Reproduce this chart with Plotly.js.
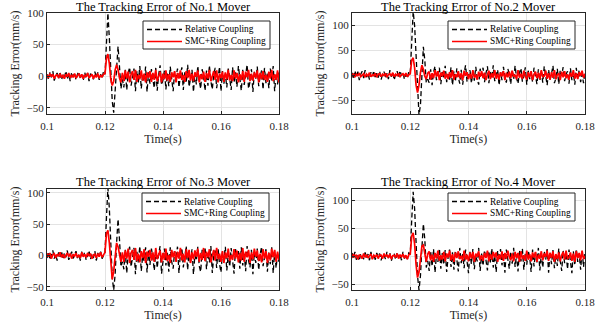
<!DOCTYPE html>
<html>
<head>
<meta charset="utf-8">
<script src="https://cdn.plot.ly/plotly-3.0.1.min.js"></script>
<style>html,body{margin:0;padding:0;background:#fff;}#chart{width:601px;height:322px;}</style>
</head>
<body>
<div id="chart"></div>
<script>
// ---- data ----
const tStart = 0.1, tStep = 0.0005, nPts = 161;
const panelTitles = ["The Tracking Error of No.1 Mover","The Tracking Error of No.2 Mover","The Tracking Error of No.3 Mover","The Tracking Error of No.4 Mover"];
const seriesNames = ["Relative Coupling","SMC+Ring Coupling"];
const xTickVals = [0.1,0.12,0.14,0.16,0.18];
const xTickText = ["0.1","0.12","0.14","0.16","0.18"];
const yTickVals = [-50,0,50,100];
const yRanges = [[-60,100],[-78,125],[-55,106],[-60,120]];

const relative1 = [
3,-5,6,-2,8,-7,1,5,-4,7,-6,2,-3,8,-5,4,-8,6,-1,5,
-6,3,7,-4,2,-7,6,-3,5,-8,4,1,-5,7,-2,6,-6,3,-4,8,
3,50,100,60,0,-40,-58,-25,20,47,15,-20,-5,
-18,10,-22,5,14,-15,-3,12,-24,8,-10,16,-20,3,-8,15,-25,6,-12,11,
-5,-19,13,-23,2,17,-14,-6,9,-21,4,-16,15,-9,-24,7,-2,12,-18,1,
14,-22,6,-11,18,-17,-4,10,-25,5,-13,16,-7,-20,11,-1,-23,9,-15,17,
-8,-21,3,13,-19,-5,15,-24,8,-12,4,-18,12,-3,-22,14,-10,6,-17,16,
-6,-23,10,-14,2,18,-20,-9,11,-25,7,-4,15,-16,-1,9,-21,13,-11,5,
-19,12,-7,16,-24,4,-13,8];
const smc1 = [
2,-3,4,-1,3,-4,1,2,-3,4,-2,1,-4,3,-1,5,-3,2,-2,4,
-3,1,4,-2,3,-4,2,-1,5,-3,1,3,-4,2,-2,4,-3,1,-1,3,
4,28,35,20,-5,-15,-8,10,18,10,-3,-10,5,
-8,9,-4,7,-10,3,8,-6,10,-9,2,-5,9,-7,4,-10,6,-3,8,-9,
5,-6,10,-8,1,7,-10,4,-5,9,-7,3,-9,6,-2,8,-10,5,-4,9,
-6,2,-9,8,-3,10,-7,4,-8,6,-1,9,-10,3,-5,7,-9,5,-4,10,
-8,1,8,-6,9,-10,4,-3,7,-9,6,-5,10,-7,2,-8,9,-4,5,-10,
3,-6,8,-9,7,-2,10,-8,4,-7,6,-3,9,-10,5,-5,8,-6,
2,-9,7,-4,10,-8,3,-6,9,-10];

const relative2 = [
5,-8,9,-3,7,-10,2,8,-6,10,-4,3,-9,6,-2,9,-7,4,-5,8,
-9,2,7,-6,4,-8,10,-3,6,-10,3,8,-5,9,-1,5,-8,2,-6,7,
4,70,128,100,40,-30,-80,-60,10,57,30,-15,-8,
-15,12,-20,6,18,-10,3,15,-18,9,-6,19,-14,2,-9,16,-20,8,-12,14,
-4,-17,11,-19,5,20,-13,-2,10,-16,7,-11,17,-8,-19,13,-1,15,-14,4,
18,-16,9,-7,20,-12,0,11,-20,6,-10,17,-5,-15,13,3,-18,10,-9,19,
-6,-17,5,14,-13,-3,16,-19,9,-8,7,-14,15,-2,-18,12,-11,8,-15,18,
-4,-20,11,-9,3,19,-16,-6,13,-18,10,-1,16,-12,2,8,-17,14,
-10,6,-19,15,-7,11,-14,2,-16,9];
const smc2 = [
-2,3,-4,2,-1,4,-3,1,3,-4,2,-2,5,-3,1,-1,4,-4,2,3,
-3,2,-1,4,-4,1,3,-2,5,-3,2,-1,4,-4,1,3,-2,4,-3,1,
3,30,35,15,-20,-35,-20,5,20,12,-2,-8,4,
7,-9,4,-6,10,-3,8,-10,5,-2,9,-7,3,-8,6,-5,10,-9,2,-4,
8,-6,4,-10,9,-1,6,-8,3,-7,10,-5,1,-9,7,-3,8,-6,5,-10,
2,9,-8,4,-5,10,-7,3,-9,6,-2,8,-10,5,-4,7,-6,9,-3,1,
-8,10,-5,3,-7,9,-1,-9,6,-4,8,-10,2,7,-6,5,-8,10,-3,-2,
9,-7,4,-9,6,-5,10,-8,1,3,-10,7,-4,8,-6,2,-9,5,
-3,10,-7,4,-8,6,-1,9,-5,3];

const relative3 = [
-4,6,-7,3,8,-5,2,-8,5,-2,7,-6,4,-3,8,-7,1,6,-5,3,
7,-4,2,-8,6,-1,5,-7,3,8,-6,2,-4,7,-8,4,-2,6,-5,1,
5,60,108,75,10,-35,-55,-30,20,58,25,-18,-10,
-22,10,-28,4,14,-18,-6,12,-30,6,-12,15,-25,0,-9,13,-27,8,-15,11,
-3,-24,9,-20,2,15,-29,-7,11,-16,5,-26,13,-10,-21,7,-2,14,-28,3,
12,-19,-5,15,-23,6,-13,10,-30,1,-8,14,-17,-26,9,-4,13,-22,5,-11,
15,-28,-1,8,-20,11,-14,-27,6,-6,14,-24,3,-18,12,-9,-29,10,-2,7,
-21,13,-16,4,-25,15,-8,-19,9,-30,5,-12,11,-23,2,14,-17,-4,
10,-26,6,-14,13,-28,8,-20,3,-10];
const smc3 = [
3,-2,4,-5,1,3,-4,2,-1,5,-3,2,-4,1,4,-2,3,-5,2,-1,
4,-3,1,-4,5,-2,2,-3,4,-1,3,-5,1,2,-4,3,-2,5,-3,1,
5,35,40,20,-15,-38,-25,2,20,14,-2,-10,5,
-10,8,-5,11,-12,4,9,-7,12,-9,3,-11,7,-4,10,-12,6,-2,9,-8,
5,-10,12,-6,2,8,-11,4,-7,11,-9,1,-12,9,-3,7,-10,6,-5,12,
-8,3,-11,10,-4,9,-12,5,-6,8,-2,11,-10,4,-7,12,-9,6,-3,10,
-11,2,9,-8,12,-6,3,-10,7,-12,5,-4,11,-9,1,-7,10,-5,8,-11,
4,-8,12,-10,6,-3,9,-12,5,-6,11,-2,8,-9,3,-11,10,-5,
7,-12,4,-8,11,-3,9,-10,6,-7];

const relative4 = [
6,-3,8,-6,2,-8,5,1,-5,7,-2,4,-7,8,-4,3,-6,6,-1,5,
-7,4,2,-5,8,-3,6,-8,1,5,-6,7,-2,3,-7,8,-4,2,-5,6,
4,65,115,85,15,-35,-60,-35,15,58,30,-20,-8,
-26,9,-18,13,-29,3,-10,14,-22,6,-15,11,-28,-2,12,-19,7,-24,10,-6,
-27,15,-12,4,-21,12,-8,-30,8,-14,13,-23,1,-9,15,-26,5,-17,11,-4,
-25,9,-11,14,-20,2,-28,10,-7,13,-16,6,-29,12,-3,-22,8,-13,15,-19,
3,-27,11,-9,14,-24,5,-15,10,-1,-28,12,-18,7,-11,15,-25,4,-20,9,
-6,13,-29,8,-14,11,-21,2,-17,14,-8,-26,10,-12,6,-23,12,-5,
-30,9,-16,13,-10,4,-24,11,-19,7];
const smc4 = [
-3,4,-1,3,-5,2,1,-4,5,-2,3,-3,1,4,-5,2,-1,3,-4,2,
2,-4,5,-1,3,-3,4,-5,1,2,-2,5,-4,3,-1,4,-3,2,-5,3,
4,36,42,22,-15,-38,-28,0,18,20,2,-10,4,
9,-7,3,-10,6,-4,10,-8,2,-6,8,-9,5,-2,10,-7,4,-10,7,-3,
9,-5,1,-8,10,-6,3,-9,7,-4,8,-10,5,-1,9,-7,2,-8,6,-3,
10,-9,4,-6,8,-2,7,-10,3,-5,9,-8,6,-4,10,-1,-7,5,-9,8,
-3,6,-10,9,-5,2,-8,10,-6,4,-9,7,-2,8,-10,3,-4,9,-7,5,
-1,10,-8,6,-3,9,-10,4,-5,7,-9,2,8,-6,10,-4,-2,7,
-8,5,-10,9,-3,6,-7,10,-5,1];

const relativeSeries = [relative1, relative2, relative3, relative4];
const smcSeries = [smc1, smc2, smc3, smc4];

// ---- build ----
const time = [];
for (let i = 0; i < nPts; i++) time.push(+(tStart + i * tStep).toFixed(4));

const W = 601, H = 322;
const FONT = "Liberation Serif, Times New Roman, serif";
const BLACK_DASH = "5px,3px";
// plot boxes in pixels: [left, right, top, bottom]
const boxes = [[47,279,13,114],[352,585,13,114],[47,279,189,290],[352,585,189,290]];
const legendBox = [[143,21],[448,21],[142,193],[448,193]];
const titleY = [7,7,182,182];

const traces = [];
const layout = {
  width: W, height: H,
  margin: {l:0,r:0,t:0,b:0},
  paper_bgcolor: "#fff", plot_bgcolor: "#fff",
  showlegend: false,
  font: {family: FONT, color: "#262626", size: 11},
  annotations: [], shapes: []
};

const px = v => v / W, py = v => 1 - v / H;

for (let p = 0; p < 4; p++) {
  const s = p === 0 ? "" : String(p + 1);
  traces.push({
    x: time, y: relativeSeries[p], type: "scatter", mode: "lines",
    name: seriesNames[0], xaxis: "x" + s, yaxis: "y" + s, showlegend: false,
    line: {color: "#000", width: 1.3, dash: BLACK_DASH}
  });
  traces.push({
    x: time, y: smcSeries[p], type: "scatter", mode: "lines",
    name: seriesNames[1], xaxis: "x" + s, yaxis: "y" + s, showlegend: false,
    line: {color: "#ff0000", width: 1.7}
  });
  const b = boxes[p];
  layout["xaxis" + s] = {
    domain: [px(b[0]), px(b[1])], anchor: "y" + s,
    range: [0.1, 0.18], tickvals: xTickVals, ticktext: xTickText,
    showline: true, mirror: true, linecolor: "#262626", linewidth: 1,
    ticks: "inside", ticklen: 3, tickcolor: "#262626",
    showgrid: true, gridcolor: "#e3e3e3", zeroline: false,
    ticklabelstandoff: 2,
    tickfont: {family: FONT, size: 11, color: "#262626"},
    title: {text: "Time(s)", font: {family: FONT, size: 12, color: "#262626"}, standoff: 2}
  };
  layout["yaxis" + s] = {
    domain: [py(b[3]), py(b[2])], anchor: "x" + s,
    range: yRanges[p], tickvals: yTickVals,
    showline: true, mirror: true, linecolor: "#262626", linewidth: 1,
    ticks: "inside", ticklen: 3, tickcolor: "#262626",
    showgrid: true, gridcolor: "#e3e3e3", zeroline: false,
    tickfont: {family: FONT, size: 11, color: "#262626"},
    title: {text: "Tracking Error(mm/s)", font: {family: FONT, size: 12, color: "#262626"}, standoff: 4}
  };
  // custom legend box (compact, MATLAB style)
  const L = legendBox[p][0], T = legendBox[p][1];
  layout.shapes.push({type: "rect", xref: "paper", yref: "paper",
    x0: px(L), x1: px(L + 127), y0: py(T + 28), y1: py(T),
    line: {color: "#262626", width: 1}, fillcolor: "#fff", layer: "above"});
  const rows = [T + 8.5, T + 20.5];
  const styles = [{color: "#000", width: 1.3, dash: BLACK_DASH}, {color: "#ff0000", width: 1.7}];
  for (let k = 0; k < 2; k++) {
    layout.shapes.push({type: "line", xref: "paper", yref: "paper",
      x0: px(L + 4), x1: px(L + 39), y0: py(rows[k]), y1: py(rows[k]),
      line: styles[k], layer: "above"});
    layout.annotations.push({text: seriesNames[k], xref: "paper", yref: "paper",
      x: px(L + 40), y: py(rows[k]), xanchor: "left", yanchor: "middle",
      showarrow: false, font: {family: FONT, size: 9.4, color: "#000"}});
  }
  layout.annotations.push({
    text: panelTitles[p], xref: "paper", yref: "paper",
    x: px((b[0] + b[1]) / 2), y: py(titleY[p]),
    xanchor: "center", yanchor: "middle", showarrow: false,
    font: {family: FONT, size: 12.5, color: "#000"}
  });
}

Plotly.newPlot("chart", traces, layout, {displayModeBar: false, staticPlot: true});
</script>
</body>
</html>
